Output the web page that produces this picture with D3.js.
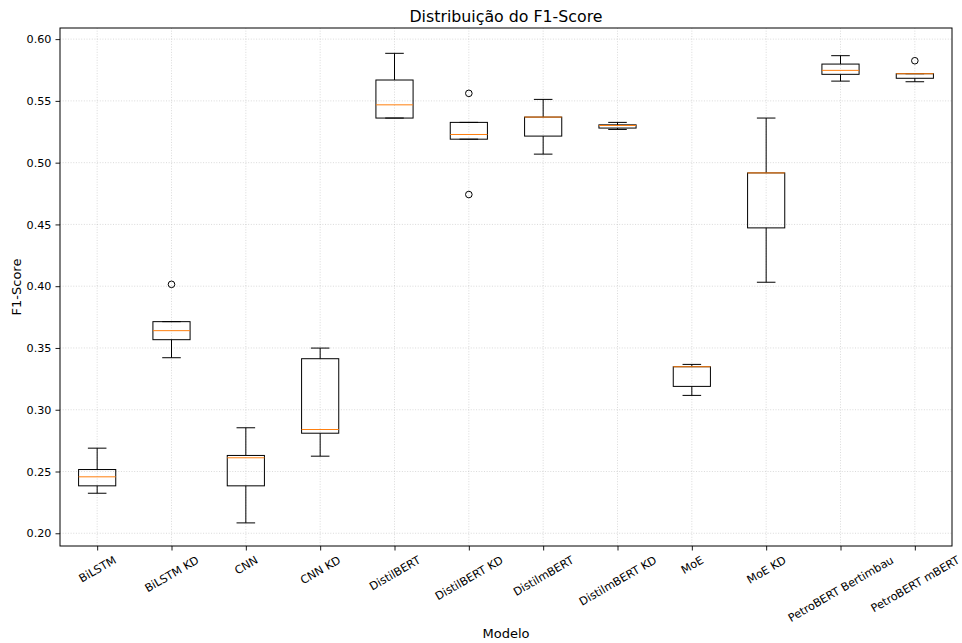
<!DOCTYPE html>
<html>
<head>
<meta charset="utf-8">
<script src="https://cdn.jsdelivr.net/npm/d3@7"></script>
<style>
  html, body { margin: 0; padding: 0; background: #fff; }
  svg { display: block; font-family: "DejaVu Sans", sans-serif; }
</style>
</head>
<body>
<svg id="chart" width="962" height="643"></svg>
<script>
// F1-score distribution per model (box summaries)
const models = ["BiLSTM", "BiLSTM KD", "CNN", "CNN KD", "DistilBERT", "DistilBERT KD",
  "DistilmBERT", "DistilmBERT KD", "MoE", "MoE KD", "PetroBERT Bertimbau", "PetroBERT mBERT"];
const whiskerLow  = [0.2324, 0.3421, 0.2084, 0.2624, 0.5361, 0.5190, 0.5069, 0.5269, 0.3116, 0.4032, 0.5660, 0.5655];
const q1          = [0.2384, 0.3567, 0.2384, 0.2810, 0.5361, 0.5190, 0.5215, 0.5280, 0.3189, 0.4472, 0.5715, 0.5683];
const medians     = [0.2457, 0.3640, 0.2611, 0.2840, 0.5468, 0.5228, 0.5369, 0.5301, 0.3348, 0.4917, 0.5747, 0.5720];
const q3          = [0.2516, 0.3713, 0.2630, 0.3413, 0.5669, 0.5326, 0.5369, 0.5306, 0.3348, 0.4917, 0.5798, 0.5720];
const whiskerHigh = [0.2689, 0.3713, 0.2854, 0.3499, 0.5885, 0.5326, 0.5512, 0.5326, 0.3367, 0.5361, 0.5866, 0.5720];
const outliers    = [[], [0.4015], [], [], [], [0.5561, 0.4742], [], [], [], [], [], [0.5825]];
const yTicks = [0.20, 0.25, 0.30, 0.35, 0.40, 0.45, 0.50, 0.55, 0.60];

const svg = d3.select("#chart");
const margin = { left: 60, right: 10, top: 28, bottom: 97 };
const W = 962, H = 643;
const plotW = W - margin.left - margin.right;
const plotH = H - margin.top - margin.bottom;

const g = svg.append("g").attr("transform", `translate(${margin.left},${margin.top})`);

const x = d3.scaleLinear().domain([0.5, models.length + 0.5]).range([0, plotW]);
const y = d3.scaleLinear().domain([0.1897, 0.609]).range([plotH, 0]);
const pos = models.map((_, i) => i + 1);

// grid
const grid = g.append("g").attr("class", "grid");
grid.selectAll("line.gy").data(yTicks).join("line")
  .attr("x1", 0).attr("x2", plotW)
  .attr("y1", d => y(d)).attr("y2", d => y(d))
  .attr("stroke", "#b0b0b0").attr("stroke-opacity", 0.6)
  .attr("stroke-width", 0.8).attr("stroke-dasharray", "1,1.65");
grid.selectAll("line.gx").data(pos).join("line")
  .attr("x1", d => x(d)).attr("x2", d => x(d))
  .attr("y1", 0).attr("y2", plotH)
  .attr("stroke", "#b0b0b0").attr("stroke-opacity", 0.6)
  .attr("stroke-width", 0.8).attr("stroke-dasharray", "1,1.65");

// boxes
const boxW = x(1.25) - x(1);
const capW = x(1.125) - x(1);
const boxes = g.append("g").selectAll("g.box").data(models.map((m, i) => i)).join("g");
const lineCol = "#000";

boxes.append("line") // lower whisker
  .attr("x1", i => x(pos[i])).attr("x2", i => x(pos[i]))
  .attr("y1", i => y(q1[i])).attr("y2", i => y(whiskerLow[i]))
  .attr("stroke", lineCol).attr("stroke-width", 1);
boxes.append("line") // upper whisker
  .attr("x1", i => x(pos[i])).attr("x2", i => x(pos[i]))
  .attr("y1", i => y(q3[i])).attr("y2", i => y(whiskerHigh[i]))
  .attr("stroke", lineCol).attr("stroke-width", 1);
boxes.append("line") // lower cap
  .attr("x1", i => x(pos[i]) - capW).attr("x2", i => x(pos[i]) + capW)
  .attr("y1", i => y(whiskerLow[i])).attr("y2", i => y(whiskerLow[i]))
  .attr("stroke", lineCol).attr("stroke-width", 1);
boxes.append("line") // upper cap
  .attr("x1", i => x(pos[i]) - capW).attr("x2", i => x(pos[i]) + capW)
  .attr("y1", i => y(whiskerHigh[i])).attr("y2", i => y(whiskerHigh[i]))
  .attr("stroke", lineCol).attr("stroke-width", 1);
boxes.append("rect")
  .attr("x", i => x(pos[i]) - boxW).attr("width", 2 * boxW)
  .attr("y", i => y(q3[i])).attr("height", i => Math.max(0.01, y(q1[i]) - y(q3[i])))
  .attr("fill", "none").attr("stroke", lineCol).attr("stroke-width", 1);
boxes.append("line") // median
  .attr("x1", i => x(pos[i]) - boxW).attr("x2", i => x(pos[i]) + boxW)
  .attr("y1", i => y(medians[i])).attr("y2", i => y(medians[i]))
  .attr("stroke", "#ff7f0e").attr("stroke-width", 1);
boxes.selectAll("circle").data(i => outliers[i].map(v => ({ i, v }))).join("circle")
  .attr("cx", d => x(pos[d.i])).attr("cy", d => y(d.v)).attr("r", 3.3)
  .attr("fill", "none").attr("stroke", "#000").attr("stroke-width", 1);

// axes
const yAxis = g.append("g").call(d3.axisLeft(y).tickValues(yTicks).tickFormat(d3.format(".2f")).tickSize(4.5).tickPadding(4));
const xAxis = g.append("g").attr("transform", `translate(0,${plotH})`)
  .call(d3.axisBottom(x).tickValues(pos).tickFormat(d => models[d - 1]).tickSize(4.5).tickPadding(4));
[yAxis, xAxis].forEach(a => {
  a.select(".domain").remove();
  a.selectAll("text").attr("font-size", 11.2).attr("fill", "#000").attr("font-family", "DejaVu Sans");
  a.selectAll("line").attr("stroke", "#000").attr("stroke-width", 0.9);
});

// rotated category labels, centred under the tick
const ang = 30 * Math.PI / 180;
xAxis.selectAll(".tick text").each(function () {
  const t = d3.select(this);
  const w = this.getComputedTextLength();
  const h = 11.2;
  const bboxH = w * Math.sin(ang) + h * Math.cos(ang);
  const cy = 4.5 + 4 + bboxH / 2;
  t.attr("y", null).attr("dy", null)
    .attr("text-anchor", "middle").attr("dominant-baseline", "central")
    .attr("transform", `translate(0,${cy}) rotate(-30)`);
});

// frame
g.append("rect").attr("x", 0).attr("y", 0).attr("width", plotW).attr("height", plotH)
  .attr("fill", "none").attr("stroke", "#000").attr("stroke-width", 1);

// labels
svg.append("text").attr("x", margin.left + plotW / 2).attr("y", 22)
  .attr("text-anchor", "middle").attr("font-size", 15.8).attr("fill", "#000")
  .text("Distribuição do F1-Score");
svg.append("text").attr("x", margin.left + plotW / 2).attr("y", 638)
  .attr("text-anchor", "middle").attr("font-size", 13).attr("fill", "#000")
  .text("Modelo");
svg.append("text").attr("transform", `translate(21,${margin.top + plotH / 2}) rotate(-90)`)
  .attr("text-anchor", "middle").attr("font-size", 13).attr("fill", "#000")
  .text("F1-Score");
</script>
</body>
</html>
